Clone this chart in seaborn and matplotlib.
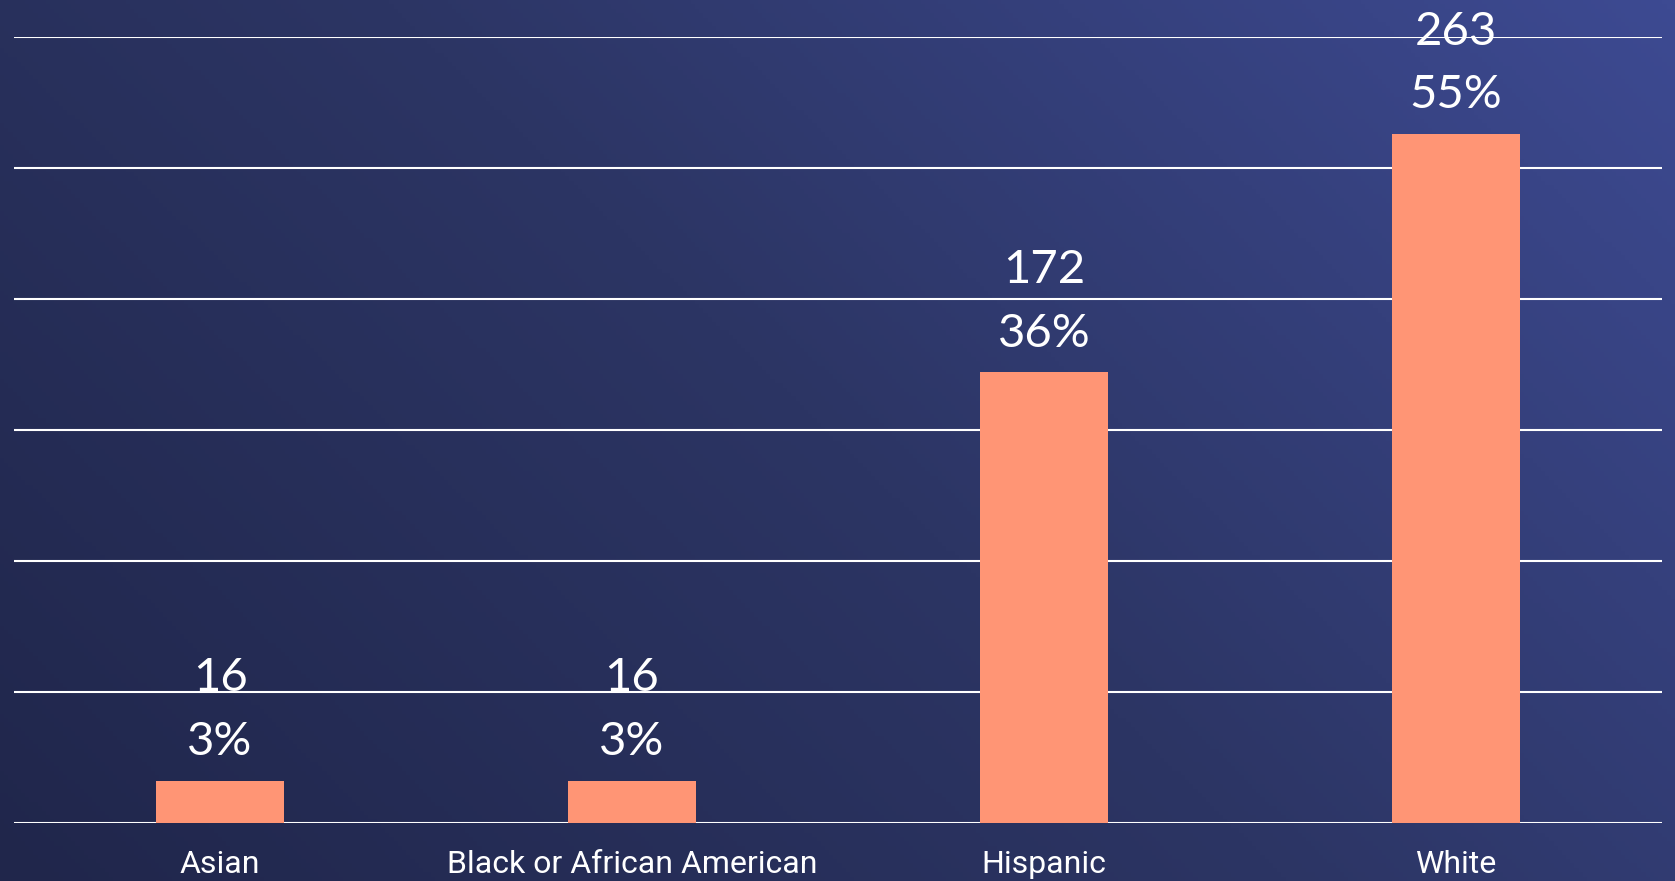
import matplotlib
matplotlib.use("Agg")
import matplotlib.pyplot as plt
import numpy as np
import pandas as pd
import seaborn as sns
from matplotlib.colors import LinearSegmentedColormap

categories = ["Asian", "Black or African American", "Hispanic", "White"]
counts = [16, 16, 172, 263]
percents = ["3%", "3%", "36%", "55%"]

df = pd.DataFrame({"group": categories, "count": counts, "pct": percents})

sns.set_theme(style="white")
plt.rcParams["font.family"] = ["Lato", "DejaVu Sans"]

fig = plt.figure(figsize=(16.75, 8.81), dpi=100)

# diagonal gradient background: dark navy bottom-left -> lighter blue top-right
bg = fig.add_axes([0, 0, 1, 1], zorder=0)
gx, gy = np.meshgrid(np.linspace(0, 1, 400), np.linspace(0, 1, 200))
grad = (0.65 * gx + 0.35 * gy)
cmap = LinearSegmentedColormap.from_list("bg", ["#20264b", "#2c3564", "#3d4a92"])
bg.imshow(grad, cmap=cmap, aspect="auto", origin="lower", extent=[0, 1, 0, 1])
bg.axis("off")

ax = fig.add_axes([0.0084, 0.0662, 0.9838, 0.8913], zorder=1)
ax.patch.set_alpha(0)

sns.barplot(data=df, x="group", y="count", color="#ff9575", width=0.31,
            saturation=1, linewidth=0, ax=ax, zorder=3)

ax.set_ylim(0, 300)
ax.set_xlim(-0.5, 3.5)
ax.set_yticks(range(0, 301, 50))
ax.yaxis.grid(True, color="white", linewidth=1.5)
ax.set_axisbelow(True)
ax.tick_params(axis="y", left=False, labelleft=False)
ax.tick_params(axis="x", bottom=False, pad=14, labelsize=23, colors="white")
for lab in ax.get_xticklabels():
    lab.set_fontfamily(["Roboto", "DejaVu Sans"])
ax.set_xlabel("")
ax.set_ylabel("")
for s in ax.spines.values():
    s.set_visible(False)

for i, (c, p) in enumerate(zip(counts, percents)):
    ax.annotate(p, (i, c), xytext=(0, 28), textcoords="offset points",
                ha="center", va="center", color="white", fontsize=34,
                annotation_clip=False, zorder=5)
    ax.annotate(str(c), (i, c), xytext=(0, 74), textcoords="offset points",
                ha="center", va="center", color="white", fontsize=34,
                annotation_clip=False, zorder=5)

fig.savefig("out.png", dpi=100)
